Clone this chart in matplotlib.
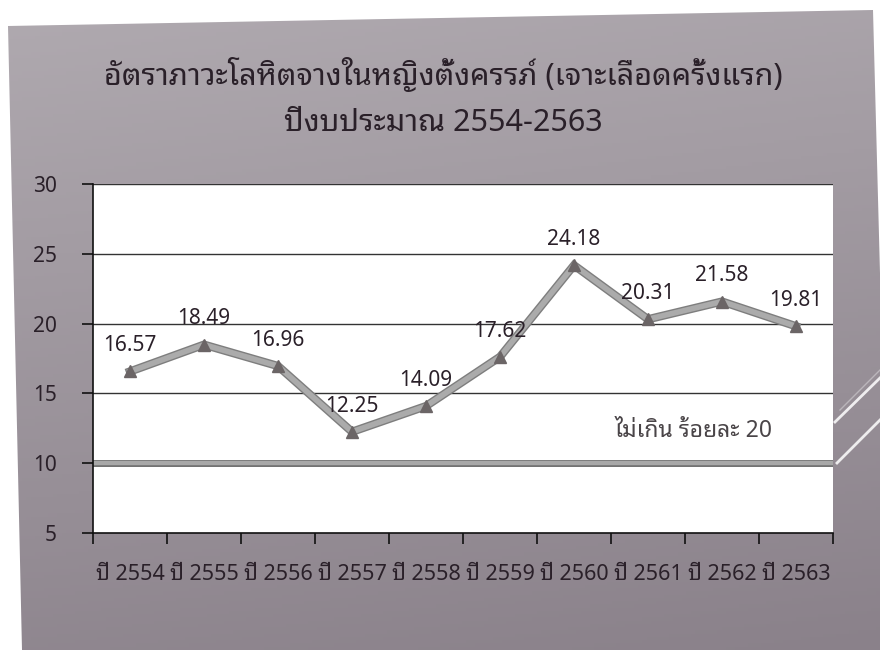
import matplotlib
matplotlib.use("Agg")
import matplotlib.pyplot as plt
import matplotlib.patheffects as pe
from matplotlib.patches import Polygon
import numpy as np

# ---- data ----
title_line1 = "อัตราภาวะโลหิตจางในหญิงตั้งครรภ์ (เจาะเลือดครั้งแรก)"
title_line2 = "ปีงบประมาณ 2554-2563"
categories = ["ปี 2554", "ปี 2555", "ปี 2556", "ปี 2557", "ปี 2558",
              "ปี 2559", "ปี 2560", "ปี 2561", "ปี 2562", "ปี 2563"]
values = [16.57, 18.49, 16.96, 12.25, 14.09, 17.62, 24.18, 20.31, 21.58, 19.81]
threshold_level = 10
threshold_text = "ไม่เกิน ร้อยละ 20"
y_ticks = [5, 10, 15, 20, 25, 30]

FONT = ["Noto Sans Thai Looped", "DejaVu Sans"]
plt.rcParams["font.family"] = FONT
TXT = "#2a2029"

W, H = 880, 650
fig = plt.figure(figsize=(W / 100, H / 100), dpi=100, facecolor="white")

# ---- slide background (photo of a slide) ----
bg = fig.add_axes([0, 0, 1, 1])
bg.set_xlim(0, W)
bg.set_ylim(H, 0)
bg.axis("off")
slide = Polygon([(8, 26), (873, 10), (890, 650), (22, 650)], closed=True,
                facecolor="none", edgecolor="none")
bg.add_patch(slide)
gy = np.linspace(0, 1, 200)[:, None]
gx = np.linspace(0, 1, 200)[None, :]
top = np.array([0xb0, 0xaa, 0xb0]) / 255
bot = np.array([0x8a, 0x81, 0x8a]) / 255
t = np.clip(0.85 * gy + 0.15 * gx, 0, 1)
grad = top[None, None, :] * (1 - t[..., None]) + bot[None, None, :] * t[..., None]
im = bg.imshow(grad, extent=(0, W, H, 0), aspect="auto", zorder=0)
im.set_clip_path(slide)
# decorative diagonal strokes on right
bg.plot([835, 882], [422, 376], color="white", lw=2, alpha=0.85)
bg.plot([837, 882], [463, 418], color="white", lw=2, alpha=0.85)
bg.plot([840, 882], [410, 368], color="white", lw=1, alpha=0.35)

# ---- title ----
fig.text(443 / W, 1 - 75 / H, title_line1, ha="center", va="center",
         fontsize=22, color=TXT, fontweight="medium")
fig.text(443 / W, 1 - 123 / H, title_line2, ha="center", va="center",
         fontsize=22, color=TXT, fontweight="medium")

# ---- chart ----
ax = fig.add_axes([93 / W, 1 - 533 / H, (833 - 93) / W, (533 - 184) / H])
ax.set_facecolor("white")
ax.patch.set_zorder(0)
x = np.arange(len(categories))
ax.set_xlim(-0.5, len(categories) - 0.5)
ax.set_ylim(y_ticks[0], y_ticks[-1])

for yv in y_ticks[1:]:
    ax.axhline(yv, color="#333333", lw=1.0, zorder=1)

ax.axhline(threshold_level, color="#a8a8a8", lw=3.2, zorder=2,
           path_effects=[pe.Stroke(linewidth=5, foreground="#707070"), pe.Normal()])

ax.plot(x, values, color="#ababab", lw=4, zorder=3, solid_joinstyle="miter",
        path_effects=[pe.Stroke(linewidth=6, foreground="#7e7e7e"), pe.Normal()])
ax.plot(x, values, linestyle="none", marker="^", markersize=9,
        color="#6b6566", zorder=4)

for xi, v in zip(x, values):
    ax.annotate(f"{v:.2f}", (xi, v), xytext=(0, 11), textcoords="offset points",
                ha="center", va="bottom", fontsize=15, color=TXT, zorder=5)

ax.text(0.919, 12.3, threshold_text, transform=ax.get_yaxis_transform(),
        ha="right", va="center", fontsize=16.5, color="#4a4548")

for s in ["top", "right"]:
    ax.spines[s].set_visible(False)
for s in ["left", "bottom"]:
    ax.spines[s].set_color("#111111")
    ax.spines[s].set_linewidth(1.2)

ax.set_yticks(y_ticks)
ax.set_yticklabels([str(v) for v in y_ticks], fontsize=15, color=TXT)
ax.tick_params(axis="y", direction="out", length=8, width=1.2, pad=18, color="#111111")

ax.set_xticks(x)
ax.set_xticklabels(categories, fontsize=15.5, color=TXT, fontweight="semibold")
ax.set_xticks(np.arange(-0.5, len(categories), 1.0), minor=True)
ax.tick_params(axis="x", which="major", length=0, pad=22)
ax.tick_params(axis="x", which="minor", direction="out", length=8, width=1.2,
               color="#111111")

fig.savefig("out.png", dpi=100, facecolor="white")
